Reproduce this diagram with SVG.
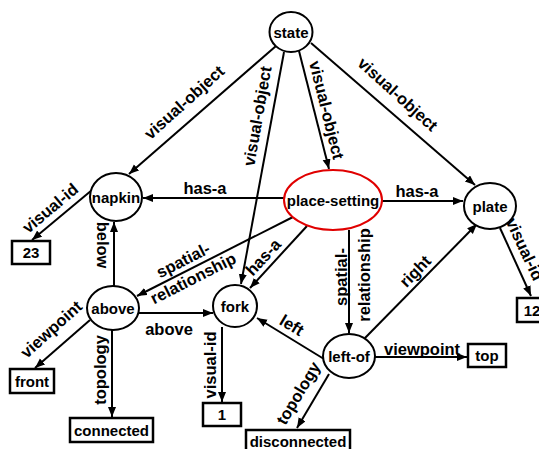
<svg xmlns="http://www.w3.org/2000/svg" width="539" height="449" viewBox="0 0 539 449">
<style>
.n{fill:#fff;stroke:#000;stroke-width:2}
.ps{fill:#fff;stroke:#e00000;stroke-width:2}
.b{fill:#fff;stroke:#000;stroke-width:2.5}
.t{font-family:"Liberation Sans",Arial,sans-serif;font-weight:bold;font-size:15px;text-anchor:middle;dominant-baseline:central;fill:#000}
.l{font-family:"Liberation Sans",Arial,sans-serif;font-weight:bold;font-size:16.5px;text-anchor:middle;dominant-baseline:central;fill:#000}
.e{stroke:#000;stroke-width:2;fill:none;marker-end:url(#a)}
</style>
<defs>
<marker id="a" markerUnits="userSpaceOnUse" markerWidth="12" markerHeight="10" refX="10" refY="4" orient="auto">
<path d="M0,0 L10,4 L0,8 z" fill="#000"/>
</marker>
</defs>
<rect width="539" height="449" fill="#fff"/>
<g id="connectors">
<line class="e" x1="276" y1="46" x2="129" y2="174"/>
<line class="e" x1="284" y1="52" x2="241" y2="284"/>
<line class="e" x1="299" y1="51" x2="329" y2="169"/>
<line class="e" x1="311" y1="43" x2="475" y2="185"/>
<line class="e" x1="284" y1="198" x2="143" y2="198"/>
<line class="e" x1="382" y1="201" x2="463" y2="201"/>
<line class="e" x1="293" y1="217" x2="137" y2="296"/>
<line class="e" x1="307" y1="226" x2="250" y2="288"/>
<line class="e" x1="349" y1="230" x2="349" y2="333"/>
<line class="e" x1="324" y1="359" x2="257" y2="318"/>
<line class="e" x1="365" y1="338" x2="477" y2="224"/>
<line class="e" x1="375" y1="357" x2="467" y2="357"/>
<line class="e" x1="329" y1="374" x2="297" y2="428"/>
<line class="e" x1="222" y1="327" x2="222" y2="402"/>
<line class="e" x1="139" y1="313" x2="213" y2="313"/>
<line class="e" x1="114" y1="286" x2="114" y2="222"/>
<line class="e" x1="90" y1="320" x2="35" y2="368"/>
<line class="e" x1="112" y1="330" x2="112" y2="417"/>
<line class="e" x1="92" y1="190" x2="32" y2="240"/>
<line class="e" x1="500" y1="228" x2="531" y2="296"/>
<text class="l" transform="translate(184,102) rotate(-42)">visual-object</text>
<text class="l" transform="translate(257,116) rotate(-80)">visual-object</text>
<text class="l" transform="translate(327,110) rotate(76)">visual-object</text>
<text class="l" transform="translate(398,94) rotate(42)">visual-object</text>
<text class="l" x="205" y="188">has-a</text>
<text class="l" x="417" y="191">has-a</text>
<text class="l" transform="translate(183,260) rotate(-27)">spatial-</text>
<text class="l" transform="translate(193,278) rotate(-27)">relationship</text>
<text class="l" transform="translate(263,257) rotate(-47)">has-a</text>
<text class="l" transform="translate(341,277) rotate(-90)">spatial-</text>
<text class="l" transform="translate(364,275) rotate(-90)">relationship</text>
<text class="l" transform="translate(292,325) rotate(31)">left</text>
<text class="l" transform="translate(415,271) rotate(-46)">right</text>
<text class="l" x="422" y="349">viewpoint</text>
<text class="l" transform="translate(298,393) rotate(-59)">topology</text>
<text class="l" transform="translate(210,365) rotate(-90)">visual-id</text>
<text class="l" x="169" y="329">above</text>
<text class="l" transform="translate(103,245) rotate(90)">below</text>
<text class="l" transform="translate(51,329) rotate(-42)">viewpoint</text>
<text class="l" transform="translate(100,370) rotate(-90)">topology</text>
<text class="l" transform="translate(50,208) rotate(-40)">visual-id</text>
<text class="l" transform="translate(525,249) rotate(65)">visual-id</text>
</g>
<g id="state"><ellipse class="n" cx="291" cy="32" rx="21.5" ry="20"/><text class="t" x="291" y="32">state</text></g>
<g id="napkin"><ellipse class="n" cx="116" cy="197" rx="26" ry="24"/><text class="t" x="116" y="197">napkin</text></g>
<g id="place-setting"><ellipse class="ps" cx="333" cy="200" rx="49" ry="30"/><text class="t" x="333" y="200">place-setting</text></g>
<g id="plate"><ellipse class="n" cx="490" cy="206" rx="26" ry="23"/><text class="t" x="490" y="206">plate</text></g>
<g id="above"><ellipse class="n" cx="113" cy="308" rx="26" ry="22"/><text class="t" x="113" y="308">above</text></g>
<g id="fork"><ellipse class="n" cx="235" cy="306" rx="22" ry="21"/><text class="t" x="235" y="306">fork</text></g>
<g id="left-of"><ellipse class="n" cx="349" cy="356" rx="26" ry="22"/><text class="t" x="349" y="356">left-of</text></g>
<g id="v23"><rect class="b" x="12" y="241" width="38" height="23"/><text class="t" x="31" y="252.5">23</text></g>
<g id="front"><rect class="b" x="10" y="369" width="44" height="24"/><text class="t" x="32" y="381">front</text></g>
<g id="connected"><rect class="b" x="70" y="418" width="83" height="24"/><text class="t" x="111.5" y="430">connected</text></g>
<g id="v1"><rect class="b" x="203" y="403" width="38" height="23"/><text class="t" x="222" y="414.5">1</text></g>
<g id="disconnected"><rect class="b" x="246" y="430" width="104" height="24"/><text class="t" x="298" y="441">disconnected</text></g>
<g id="top"><rect class="b" x="468" y="344" width="38" height="23"/><text class="t" x="487" y="355.5">top</text></g>
<g id="v12"><rect class="b" x="517" y="298" width="40" height="24"/><text class="t" x="532" y="310">12</text></g>
</svg>
